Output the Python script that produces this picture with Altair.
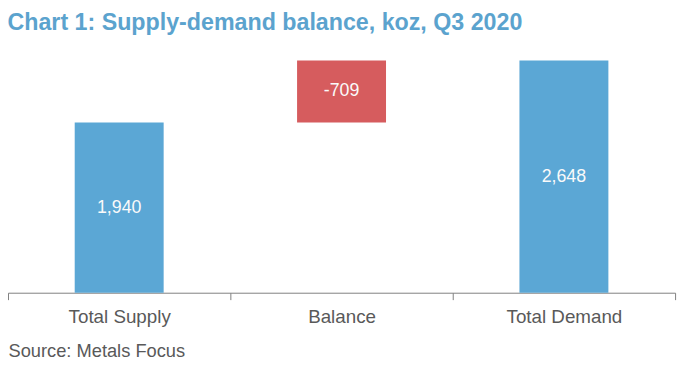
import altair as alt
import pandas as pd

categories = ["Total Supply", "Balance", "Total Demand"]
bar_start = [0, 1940, 0]
bar_end = [1940, 2648, 2648]
labels = ["1,940", "-709", "2,648"]
kinds = ["total", "change", "total"]

df = pd.DataFrame({
    "cat": categories,
    "start": bar_start,
    "end": bar_end,
    "label": labels,
    "kind": kinds,
})
df["mid"] = (df["start"] + df["end"]) / 2

FONT = "Liberation Sans"

x = alt.X(
    "cat:N",
    sort=categories,
    scale=alt.Scale(paddingInner=0, paddingOuter=0),
    axis=alt.Axis(
        title="Source: Metals Focus",
        titleAnchor="start",
        titleAlign="left",
        titleFont=FONT,
        titleFontSize=18.5,
        titleFontWeight="normal",
        titleColor="#595959",
        titlePadding=16,
        labelFont=FONT,
        labelFontSize=19,
        labelColor="#595959",
        labelAngle=0,
        labelPadding=8,
        domainColor="#7f7f7f",
        tickColor="#7f7f7f",
        tickSize=7,
        tickBand="extent",
        grid=False,
    ),
)

yscale = alt.Scale(domain=[0, 2648], nice=False)

bars = alt.Chart(df).mark_bar(width=alt.RelativeBandSize(0.4)).encode(
    x=x,
    y=alt.Y("start:Q", scale=yscale, axis=None),
    y2="end:Q",
    color=alt.Color(
        "kind:N",
        scale=alt.Scale(domain=["total", "change"], range=["#5BA7D5", "#D65C5E"]),
        legend=None,
    ),
)

text = alt.Chart(df).mark_text(
    color="#FAFAFA", font=FONT, fontSize=18, baseline="middle", align="center"
).encode(
    x=alt.X("cat:N", sort=categories),
    y=alt.Y("mid:Q", scale=yscale),
    text="label:N",
)

chart = alt.layer(bars, text).properties(
    width=675,
    height=235,
    autosize=alt.AutoSizeParams(type="none"),
    padding={"left": 0, "top": 51, "right": 8, "bottom": 68},
    title=alt.TitleParams(
        "Chart 1: Supply-demand balance, koz, Q3 2020",
        anchor="start",
        font=FONT,
        fontSize=23.5,
        fontWeight="bold",
        color="#5BA3CE",
        offset=26,
    ),
).configure_view(stroke=None)

chart.save("out.html", embed_options={"renderer": "svg", "actions": False})
